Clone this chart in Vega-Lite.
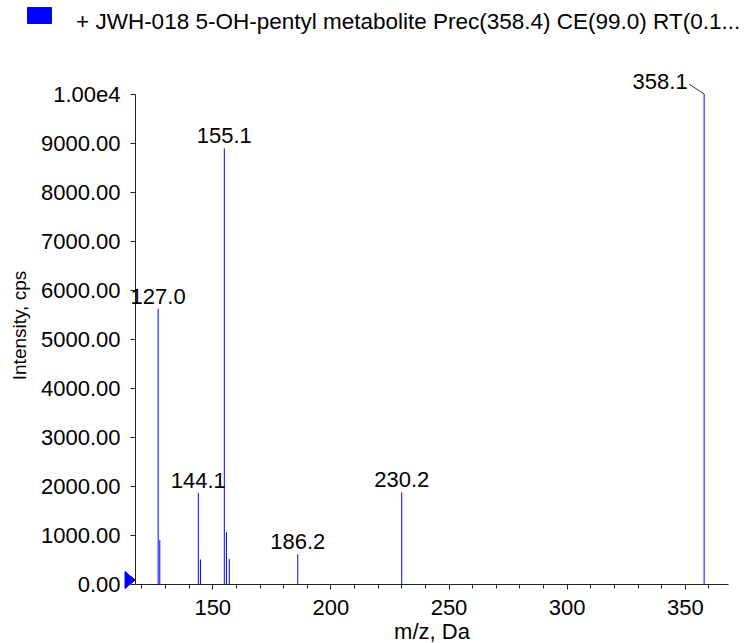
{
  "$schema": "https://vega.github.io/schema/vega-lite/v6.json",
  "width": 593,
  "height": 490,
  "autosize": {"type": "none"},
  "padding": {"left": 135, "top": 94, "right": 26, "bottom": 59},
  "background": "white",
  "config": {"view": {"stroke": null}, "font": "Liberation Sans"},
  "title": {"text": "m/z, Da", "frame": "group", "anchor": "middle", "offset": 89, "baseline": "alphabetic", "fontSize": 22, "fontWeight": "normal", "color": "black", "font": "Liberation Sans"},
  "data": {"values": [
    {"mz": 127.1, "intensity": 5620, "label": "127.0"},
    {"mz": 127.8, "intensity": 900, "label": ""},
    {"mz": 144.1, "intensity": 1860, "label": "144.1"},
    {"mz": 145.0, "intensity": 500, "label": ""},
    {"mz": 155.1, "intensity": 8890, "label": "155.1"},
    {"mz": 156.0, "intensity": 1060, "label": ""},
    {"mz": 157.2, "intensity": 510, "label": ""},
    {"mz": 186.2, "intensity": 610, "label": "186.2"},
    {"mz": 230.2, "intensity": 1870, "label": "230.2"},
    {"mz": 358.2, "intensity": 10000, "label": "358.1"}
  ]},
  "resolve": {"axis": {"x": "independent"}},
  "layer": [
    {
      "mark": {"type": "rule", "strokeWidth": 1},
      "encoding": {
        "x": {"field": "mz", "type": "quantitative",
          "scale": {"domain": [117.3, 368.3], "nice": false, "zero": false},
          "axis": {"orient": "bottom", "values": [150, 200, 250, 300, 350],
            "grid": false, "labelOverlap": false, "labelFlush": false,
            "labelFontSize": 22, "labelFont": "Liberation Sans", "labelColor": "black",
            "labelBaseline": "alphabetic", "labelPadding": 25,
            "tickSize": 5, "tickColor": "#222", "domainColor": "#222",
            "title": "m/z, Da", "titleFontSize": 22, "titleFont": "Liberation Sans", "titleFontWeight": "normal", "titleColor": "black",
            "titleBaseline": "alphabetic", "titleY": 54}},
        "y": {"field": "intensity", "type": "quantitative",
          "scale": {"domain": [0, 10000], "nice": false},
          "axis": {"values": [0,500,1000,1500,2000,2500,3000,3500,4000,4500,5000,5500,6000,6500,7000,7500,8000,8500,9000,9500,10000],
            "labelExpr": "datum.value % 1000 != 0 ? '' : (datum.value == 10000 ? '1.00e4' : format(datum.value, '.2f'))",
            "grid": false, "labelOverlap": false, "labelFlush": false,
            "labelFontSize": 22, "labelFont": "Liberation Sans", "labelColor": "black", "labelPadding": 10,
            "tickSize": 5, "tickColor": "#222", "domainColor": "#222",
            "title": "Intensity, cps", "titleFontSize": 19, "titleFont": "Liberation Sans", "titleFontWeight": "normal", "titleColor": "black",
            "titleAngle": 270, "titleAlign": "center", "titleBaseline": "bottom", "titleX": -106, "titleY": 231}},
        "y2": {"datum": 0},
        "color": {"datum": "+ JWH-018 5-OH-pentyl metabolite Prec(358.4) CE(99.0) RT(0.1...", "type": "nominal",
          "scale": {"range": ["#0000ff"]},
          "legend": {"orient": "none", "legendX": -108, "legendY": -91, "title": null,
            "symbolType": "M-1,-0.667H1V0.667H-1Z", "symbolSize": 576,
            "labelFontSize": 22.5, "labelFont": "Liberation Sans", "labelColor": "black", "labelOffset": 24, "labelLimit": 1000,
            "encode": {"symbols": {"update": {"fill": {"value": "#0000ff"}, "stroke": {"value": "#000033"}, "strokeWidth": {"value": 1}, "opacity": {"value": 1}}},
                       "labels": {"update": {"dy": {"value": 6}}}}}}
      }
    },
    {
      "mark": {"type": "text", "fontSize": 22, "font": "Liberation Sans", "dy": -5, "baseline": "alphabetic", "align": "center", "color": "black"},
      "transform": [{"filter": "datum.label != '' && datum.mz < 350"}],
      "encoding": {
        "x": {"field": "mz", "type": "quantitative", "axis": null},
        "y": {"field": "intensity", "type": "quantitative"},
        "text": {"field": "label"}
      }
    },
    {
      "mark": {"type": "text", "fontSize": 22, "font": "Liberation Sans", "dx": -44, "dy": -5, "baseline": "alphabetic", "align": "center", "color": "black"},
      "transform": [{"filter": "datum.mz > 350"}],
      "encoding": {
        "x": {"field": "mz", "type": "quantitative", "axis": null},
        "y": {"field": "intensity", "type": "quantitative"},
        "text": {"field": "label"}
      }
    },
    {
      "mark": {"type": "rule", "color": "#333", "strokeWidth": 1},
      "transform": [{"filter": "datum.mz > 350"}],
      "encoding": {
        "x": {"field": "mz", "type": "quantitative",
          "axis": {"orient": "bottom", "values": [120,130,140,160,170,180,190,210,220,230,240,260,270,280,290,310,320,330,340,360],
            "labels": false, "domain": false, "grid": false, "title": null, "tickSize": 4, "tickColor": "#222"}},
        "y": {"field": "intensity", "type": "quantitative"},
        "x2": {"datum": 351.8},
        "y2": {"datum": 10204}
      }
    },
    {
      "mark": {"type": "point", "shape": "M-0.6,-1L0.6,0L-0.6,1Z", "filled": true, "color": "#0000ff", "size": 289, "opacity": 1, "clip": false},
      "encoding": {
        "x": {"datum": 115.2, "axis": null},
        "y": {"datum": 80}
      }
    }
  ]
}
